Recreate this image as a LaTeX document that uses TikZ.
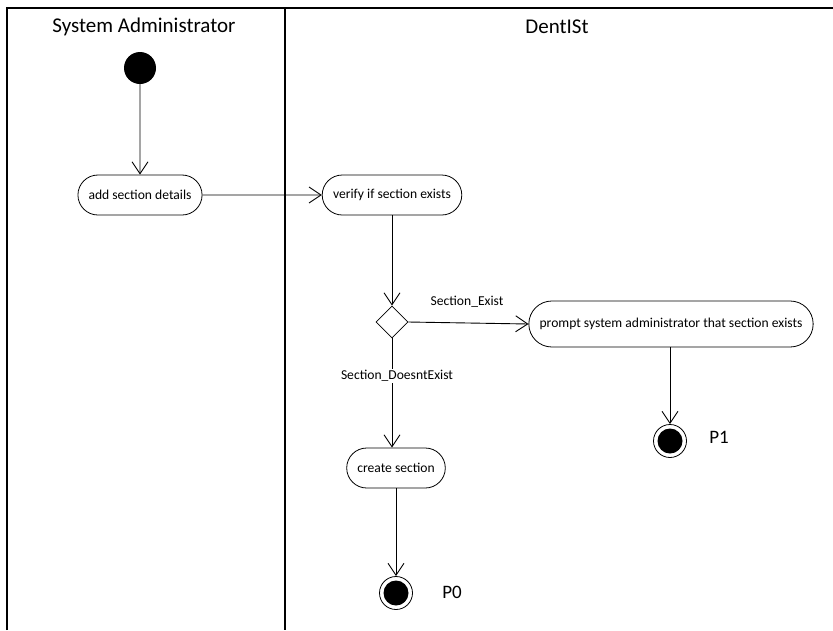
\documentclass[tikz,border=0pt]{standalone}
\usepackage{fontspec}
\setmainfont{Carlito}
\usetikzlibrary{arrows.meta,shapes.geometric,shapes.misc}
\begin{document}
\begin{tikzpicture}[x=1pt,y=-1pt,
  lane/.style={line width=1.3pt},
  action/.style={draw,rounded rectangle,line width=0.8pt,minimum height=40pt,inner xsep=10pt,font=\fontsize{13.6}{16}\selectfont},
  flow/.style={line width=0.9pt,-{Straight Barb[length=12pt,width=16pt,line width=0.9pt]}},
  startnode/.style={circle,fill=black,minimum size=32pt,inner sep=0pt},
  endnode/.style={circle,draw,line width=0.8pt,minimum size=33pt,inner sep=0pt,
    path picture={\fill (path picture bounding box.center) circle (12.5pt);}},
  choice/.style={draw,diamond,line width=0.8pt,minimum size=32pt,inner sep=0pt},
  guard/.style={font=\fontsize{13.6}{16}\selectfont},
  lanetitle/.style={font=\fontsize{21}{25}\selectfont},
  pin/.style={font=\fontsize{19}{23}\selectfont}]
\useasboundingbox (0,0) rectangle (833,630);
\fill[white] (0,0) rectangle (833,630);
% swimlanes
\draw[lane] (7,630) -- (7,8) -- (833,8);
\draw[lane] (285,8) -- (285,630);
\node[lanetitle] (laneA) at (144,27) {System Administrator};
\node[lanetitle] (laneB) at (557,27) {DentISt};
% nodes
\node[startnode] (init) at (140,68) {};
\node[action] (add) at (140,195) {add section details};
\node[action] (verify) at (392,195) {verify if section exists};
\node[choice] (dec) at (392,322) {};
\node[action,minimum height=46pt] (prompt) at (671,324) {prompt system administrator that section exists};
\node[action] (create) at (396,468) {create section};
\node[endnode] (fin0) at (396,593) {};
\node[endnode] (fin1) at (670,441) {};
\node[pin] (p0) at (452,592) {P0};
\node[pin] (p1) at (719,437) {P1};
% flows
\draw[flow] (init) -- (add);
\draw[flow] (add) -- (verify);
\draw[flow] (verify.south -| dec.north) -- (dec.north);
\draw[flow] (dec.east) -- (prompt.west);
\node[guard] (g1) at (467,302) {Section\_Exist};
\draw[flow] (dec.south) -- (dec.south |- create.north);
\node[guard,fill=white,inner sep=1pt] (g2) at (397,376) {Section\_DoesntExist};
\draw[flow] (create.south -| fin0) -- (fin0);
\draw[flow] (prompt.south -| fin1) -- (fin1);
\end{tikzpicture}
\end{document}
